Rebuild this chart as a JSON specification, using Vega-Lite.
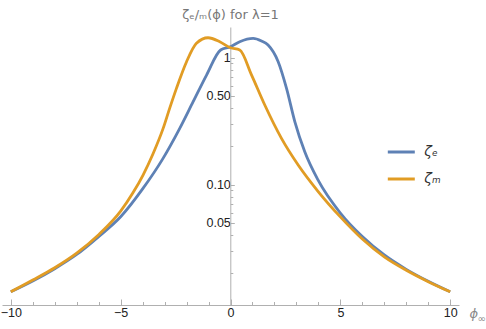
{
  "$schema": "https://vega.github.io/schema/vega-lite/v6.json",
  "width": 457,
  "height": 278,
  "autosize": {"type": "none"},
  "padding": {"left": 2, "top": 27, "right": 27, "bottom": 24},
  "title": {"text": "ζₑ/ₘ(ϕ) for λ=1", "anchor": "middle", "offset": 9, "dy": 14, "baseline": "alphabetic", "fontSize": 13, "fontWeight": "normal", "color": "#777777", "font": "DejaVu Sans"},
  "config": {
    "view": {"stroke": null},
    "axis": {"grid": false, "domainColor": "#b0b0b0", "tickColor": "#b0b0b0", "labelColor": "#222222", "labelFont": "Liberation Sans", "labelFontSize": 12.5, "labelFlush": false, "labelOverlap": false}
  },
  "data": {"values": [
    {"phi": -10, "zeta": 0.01429, "series": "ζₑ"},
    {"phi": -9, "zeta": 0.01738, "series": "ζₑ"},
    {"phi": -8, "zeta": 0.02173, "series": "ζₑ"},
    {"phi": -7, "zeta": 0.02812, "series": "ζₑ"},
    {"phi": -6, "zeta": 0.0389, "series": "ζₑ"},
    {"phi": -5, "zeta": 0.0557, "series": "ζₑ"},
    {"phi": -4, "zeta": 0.0923, "series": "ζₑ"},
    {"phi": -3.07, "zeta": 0.1607, "series": "ζₑ"},
    {"phi": -2.31, "zeta": 0.277, "series": "ζₑ"},
    {"phi": -1.7, "zeta": 0.449, "series": "ζₑ"},
    {"phi": -1.09, "zeta": 0.728, "series": "ζₑ"},
    {"phi": -0.45, "zeta": 1.146, "series": "ζₑ"},
    {"phi": 0, "zeta": 1.216, "series": "ζₑ"},
    {"phi": 0.42, "zeta": 1.332, "series": "ζₑ"},
    {"phi": 1.03, "zeta": 1.416, "series": "ζₑ"},
    {"phi": 1.41, "zeta": 1.35, "series": "ζₑ"},
    {"phi": 1.71, "zeta": 1.254, "series": "ζₑ"},
    {"phi": 2.17, "zeta": 0.927, "series": "ζₑ"},
    {"phi": 2.55, "zeta": 0.572, "series": "ζₑ"},
    {"phi": 2.93, "zeta": 0.312, "series": "ζₑ"},
    {"phi": 3.38, "zeta": 0.181, "series": "ζₑ"},
    {"phi": 4, "zeta": 0.1072, "series": "ζₑ"},
    {"phi": 5, "zeta": 0.0596, "series": "ζₑ"},
    {"phi": 6, "zeta": 0.0389, "series": "ζₑ"},
    {"phi": 7, "zeta": 0.02786, "series": "ζₑ"},
    {"phi": 8, "zeta": 0.02148, "series": "ζₑ"},
    {"phi": 9, "zeta": 0.0173, "series": "ζₑ"},
    {"phi": 10, "zeta": 0.01429, "series": "ζₑ"},
    {"phi": -10, "zeta": 0.01429, "series": "ζₘ"},
    {"phi": -9, "zeta": 0.01770, "series": "ζₘ"},
    {"phi": -8, "zeta": 0.02213, "series": "ζₘ"},
    {"phi": -7, "zeta": 0.02884, "series": "ζₘ"},
    {"phi": -6, "zeta": 0.04027, "series": "ζₘ"},
    {"phi": -5, "zeta": 0.0617, "series": "ζₘ"},
    {"phi": -4.44, "zeta": 0.0860, "series": "ζₘ"},
    {"phi": -3.98, "zeta": 0.1188, "series": "ζₘ"},
    {"phi": -3.53, "zeta": 0.1740, "series": "ζₘ"},
    {"phi": -3.07, "zeta": 0.2754, "series": "ζₘ"},
    {"phi": -2.77, "zeta": 0.398, "series": "ζₘ"},
    {"phi": -2.46, "zeta": 0.572, "series": "ζₘ"},
    {"phi": -2.0, "zeta": 0.927, "series": "ζₘ"},
    {"phi": -1.55, "zeta": 1.294, "series": "ζₘ"},
    {"phi": -1.02, "zeta": 1.432, "series": "ζₘ"},
    {"phi": -0.49, "zeta": 1.332, "series": "ζₘ"},
    {"phi": 0, "zeta": 1.194, "series": "ζₘ"},
    {"phi": 0.42, "zeta": 1.146, "series": "ζₘ"},
    {"phi": 0.96, "zeta": 0.728, "series": "ζₘ"},
    {"phi": 1.56, "zeta": 0.423, "series": "ζₘ"},
    {"phi": 2.32, "zeta": 0.231, "series": "ζₘ"},
    {"phi": 3.08, "zeta": 0.1425, "series": "ζₘ"},
    {"phi": 4, "zeta": 0.0877, "series": "ζₘ"},
    {"phi": 5, "zeta": 0.0556, "series": "ζₘ"},
    {"phi": 6, "zeta": 0.0372, "series": "ζₘ"},
    {"phi": 7, "zeta": 0.02692, "series": "ζₘ"},
    {"phi": 8, "zeta": 0.02113, "series": "ζₘ"},
    {"phi": 9, "zeta": 0.01718, "series": "ζₘ"},
    {"phi": 10, "zeta": 0.01429, "series": "ζₘ"}
  ]},
  "layer": [
    {
      "mark": {"type": "line", "strokeWidth": 2.8, "interpolate": "monotone"},
      "encoding": {
        "x": {"field": "phi", "type": "quantitative",
          "scale": {"domain": [-10.4, 10.4], "nice": false, "zero": false},
          "axis": {"orient": "bottom", "values": [-10, -5, 0, 5, 10], "tickSize": -6, "labelPadding": 7,
            "title": "ϕ", "titleX": 467, "titleY": 12, "titleAlign": "left", "titleBaseline": "alphabetic",
            "titleFontStyle": "italic", "titleFontWeight": "normal", "titleColor": "#888888", "titleFontSize": 13, "titleFont": "DejaVu Sans"}},
        "y": {"field": "zeta", "type": "quantitative",
          "scale": {"type": "log", "domain": [0.01125, 1.74], "nice": false},
          "axis": {"orient": "left", "offset": -228.3, "values": [0.05, 0.1, 0.5, 1], "tickSize": -4, "labelPadding": 4,
            "labelExpr": "datum.value == 1 ? '1' : format(datum.value, '.2f')", "title": null}},
        "color": {"field": "series", "type": "nominal",
          "scale": {"domain": ["ζₑ", "ζₘ"], "range": ["#5E81B5", "#E19C24"]},
          "legend": {"orient": "none", "legendX": 384.3, "legendY": 110, "title": null, "symbolType": "stroke",
            "symbolSize": 729, "symbolStrokeWidth": 3, "labelFontSize": 14, "labelFontStyle": "italic",
            "labelOffset": 8, "rowPadding": 5, "padding": 0, "labelColor": "#333333", "labelFont": "DejaVu Sans"}}
      }
    },
    {
      "mark": {"type": "point", "opacity": 0},
      "encoding": {
        "x": {"field": "phi", "type": "quantitative",
          "axis": {"orient": "bottom", "values": [-9, -8, -7, -6, -4, -3, -2, -1, 1, 2, 3, 4, 6, 7, 8, 9], "tickSize": -3.5, "labels": false, "domain": false,
            "title": "∞", "titleX": 475, "titleY": 16, "titleAlign": "left", "titleBaseline": "alphabetic",
            "titleFontWeight": "normal", "titleColor": "#888888", "titleFontSize": 10, "titleFont": "DejaVu Sans"}},
        "y": {"field": "zeta", "type": "quantitative",
          "axis": {"orient": "left", "offset": -228.3, "values": [0.02, 0.03, 0.04, 0.06, 0.07, 0.08, 0.09, 0.2, 0.3, 0.4, 0.6, 0.7, 0.8, 0.9],
            "tickSize": -2.5, "labels": false, "domain": false, "title": null}}
      }
    }
  ],
  "resolve": {"axis": {"x": "independent", "y": "independent"}}
}
